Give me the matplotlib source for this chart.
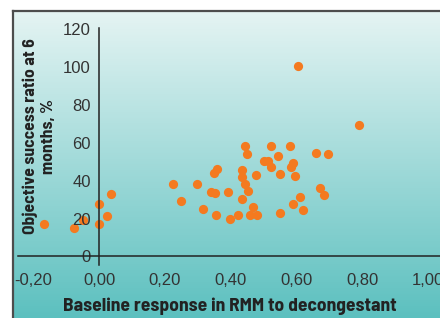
import numpy as np
import matplotlib
matplotlib.use("Agg")
import matplotlib.pyplot as plt
from matplotlib.lines import Line2D
from matplotlib.ticker import FuncFormatter

# data
baseline = [-0.167, -0.076, -0.049, 0.000, 0.000, 0.024, 0.037,
            0.225, 0.248, 0.298, 0.316, 0.339, 0.353, 0.356, 0.350, 0.358,
            0.393, 0.399, 0.423, 0.433, 0.433, 0.443, 0.453, 0.433, 0.443,
            0.450, 0.469, 0.459, 0.479, 0.477, 0.501, 0.514, 0.522, 0.522,
            0.542, 0.551, 0.549, 0.579, 0.583, 0.590, 0.596, 0.589, 0.611,
            0.620, 0.603, 0.659, 0.696, 0.671, 0.683, 0.789]
success = [17.2, 15.3, 19.3, 27.6, 17.4, 21.4, 32.9,
           38.3, 29.2, 38.3, 25.3, 34.2, 33.7, 21.7, 44.2, 46.0,
           33.8, 19.9, 22.0, 45.6, 42.2, 38.3, 34.8, 30.6, 58.4,
           54.1, 25.9, 22.0, 21.7, 43.1, 50.6, 50.2, 47.1, 58.5,
           52.8, 43.6, 23.0, 58.5, 47.4, 49.4, 42.5, 27.5, 31.3,
           24.6, 100.8, 54.8, 54.1, 36.2, 32.5, 69.5]
xticks = [-0.2, 0.0, 0.2, 0.4, 0.6, 0.8, 1.0]
yticks = [0, 20, 40, 60, 80, 100, 120]

W, H = 440, 318
fig = plt.figure(figsize=(W / 100, H / 100), dpi=100)
fig.patch.set_facecolor("white")

# gradient background inside the frame
bg = fig.add_axes([13 / W, 0, 1 - 13 / W, (H - 11) / H])
top = np.array([229, 244, 243]) / 255
bot = np.array([92, 192, 191]) / 255
t = np.linspace(0, 1, 256)[:, None]
grad = top + (bot - top) * t
bg.imshow(grad[:, None, :], aspect="auto", extent=[0, 1, 0, 1])
bg.set_axis_off()

# frame lines top and left
fig.add_artist(Line2D([13 / W, 1], [1 - 11 / H, 1 - 11 / H], color="#4d4d4d", lw=1.6))
fig.add_artist(Line2D([13 / W, 13 / W], [0, 1 - 11 / H], color="#4d4d4d", lw=1.6))

ax = fig.add_axes([18.3 / W, (H - 265) / H, (W - 18.3) / W, (265 - 28.3) / H])
ax.set_facecolor("none")
ax.scatter(baseline, success, s=44, color="#f47a20", linewidths=0, zorder=1)

ax.set_xlim(-0.246, 1.036)
ax.set_ylim(-4.5, 120.5)
for s in ["top", "right"]:
    ax.spines[s].set_visible(False)
ax.spines["left"].set_position(("data", 0))
ax.spines["bottom"].set_position(("data", 0))
for s in ["left", "bottom"]:
    ax.spines[s].set_color("#222222")
    ax.spines[s].set_linewidth(1.1)

ax.set_xticks(xticks)
ax.set_yticks(yticks)
ax.xaxis.set_major_formatter(FuncFormatter(lambda v, p: f"{v:.2f}".replace(".", ",").replace("-0,00", "0,00")))
ax.tick_params(axis="both", length=0, labelsize=12, labelcolor="#333333")
ax.tick_params(axis="x", pad=12)
ax.tick_params(axis="y", pad=6)
for lab in ax.get_xticklabels() + ax.get_yticklabels():
    lab.set_family(["Liberation Sans", "DejaVu Sans"])

lab_font = dict(family=["Barlow Semi Condensed", "DejaVu Sans"], weight="bold", color="#222222")
fig.text(230 / W, 1 - 306 / H, "Baseline response in RMM to decongestant",
         ha="center", va="center", size=14, **lab_font)
fig.text(39.5 / W, 1 - 136 / H, "Objective success ratio at 6\nmonths, %",
         ha="center", va="center", rotation=90, linespacing=1.25, size=12.6, **lab_font)

fig.savefig("out.png", dpi=100)
